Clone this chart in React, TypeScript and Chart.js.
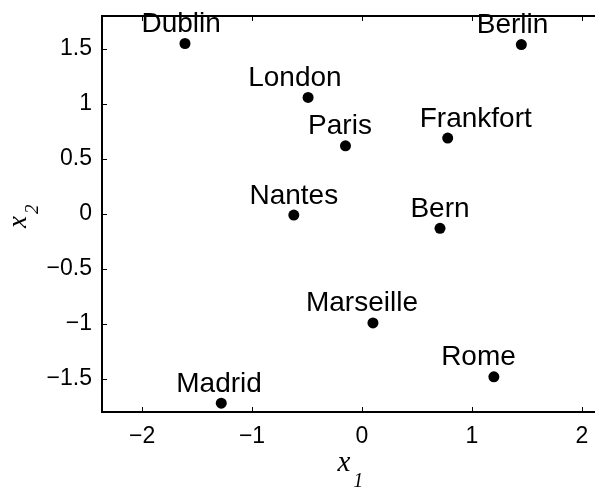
import { useEffect, useRef } from "react";
import { Chart, registerables } from "chart.js";

Chart.register(...registerables);

// City coordinates in the (x1, x2) plane
const cities = ["Dublin", "London", "Paris", "Frankfort", "Berlin", "Bern", "Nantes", "Madrid", "Marseille", "Rome"];
const x1Values = [-1.61, -0.49, -0.15, 0.78, 1.45, 0.71, -0.62, -1.28, 0.1, 1.2];
const x2Values = [1.55, 1.06, 0.62, 0.69, 1.54, -0.13, -0.01, -1.72, -0.99, -1.48];

// Tick values of both axes
const xTicks = [-2, -1, 0, 1, 2];
const yTicks = [-1.5, -1, -0.5, 0, 0.5, 1, 1.5];

// Horizontal shift of each city name (in x1 units) relative to its dot
const labelShift = [-0.035, -0.12, -0.05, 0.255, -0.08, 0, 0, -0.02, -0.1, -0.14];

const SANS = "'Liberation Sans', Arial, Helvetica, sans-serif";
const SERIF = "'Liberation Serif', 'Times New Roman', serif";

const fmt = (v: number) => (v < 0 ? "\u2212" + String(Math.abs(v)) : String(v));

// Axis lines with inward tick marks (left, top, bottom)
const framePlugin = {
  id: "frame",
  beforeDatasetsDraw(chart: any) {
    const { ctx, chartArea: a, scales } = chart;
    const xs = scales.x;
    const ys = scales.y;
    const tick = 5;
    ctx.save();
    ctx.strokeStyle = "#000";
    ctx.lineWidth = 2;
    ctx.beginPath();
    ctx.moveTo(a.right, a.top);
    ctx.lineTo(a.left, a.top);
    ctx.lineTo(a.left, a.bottom);
    ctx.lineTo(a.right, a.bottom);
    ctx.stroke();
    ctx.lineWidth = 1;
    ctx.beginPath();
    xTicks.forEach((v) => {
      const px = Math.round(xs.getPixelForValue(v)) + 0.5;
      ctx.moveTo(px, a.bottom);
      ctx.lineTo(px, a.bottom - tick);
      ctx.moveTo(px, a.top);
      ctx.lineTo(px, a.top + tick);
    });
    yTicks.forEach((v) => {
      const py = Math.round(ys.getPixelForValue(v)) + 0.5;
      ctx.moveTo(a.left, py);
      ctx.lineTo(a.left + tick, py);
    });
    ctx.stroke();
    ctx.restore();
  },
};

// City names above the dots
const cityLabelPlugin = {
  id: "cityLabels",
  afterDatasetsDraw(chart: any) {
    const { ctx, scales } = chart;
    ctx.save();
    ctx.fillStyle = "#000";
    ctx.font = `28px ${SANS}`;
    ctx.textAlign = "center";
    ctx.textBaseline = "alphabetic";
    cities.forEach((name, i) => {
      const px = scales.x.getPixelForValue(x1Values[i] + labelShift[i]);
      const py = scales.y.getPixelForValue(x2Values[i]) - 11.5;
      ctx.fillText(name, px, py);
    });
    ctx.restore();
  },
};

// Axis titles x1 and x2 with subscripts
const axisTitlePlugin = {
  id: "axisTitles",
  afterDraw(chart: any) {
    const { ctx, chartArea: a } = chart;
    ctx.save();
    ctx.fillStyle = "#000";
    ctx.textAlign = "left";
    ctx.textBaseline = "alphabetic";

    // x1 below the horizontal axis
    const cx = (a.left + a.right) / 2;
    ctx.font = `italic 29px ${SERIF}`;
    const wx = ctx.measureText("x").width;
    const startX = cx - 11;
    ctx.fillText("x", startX, a.bottom + 59);
    ctx.font = `italic 20px ${SERIF}`;
    ctx.fillText("1", startX + wx + 3, a.bottom + 75);

    // x2 rotated beside the vertical axis
    const cy = (a.top + a.bottom) / 2;
    ctx.translate(26, cy + 14);
    ctx.rotate(-Math.PI / 2);
    ctx.font = `italic 27px ${SERIF}`;
    const wy = ctx.measureText("x").width;
    ctx.fillText("x", 0, 0);
    ctx.font = `italic 19px ${SERIF}`;
    ctx.fillText("2", wy + 2, 12);
    ctx.restore();
  },
};

export default function App() {
  const canvasRef = useRef<HTMLCanvasElement | null>(null);

  useEffect(() => {
    const canvas = canvasRef.current;
    if (!canvas) return;
    const points = x1Values.map((x, i) => ({ x, y: x2Values[i] }));
    const chart = new Chart(canvas, {
      type: "scatter",
      data: {
        datasets: [
          {
            data: points,
            backgroundColor: "#000",
            borderColor: "#000",
            pointRadius: 5.5,
            pointHoverRadius: 5.5,
            borderWidth: 0,
            clip: false,
          },
        ],
      },
      options: {
        animation: false,
        responsive: false,
        devicePixelRatio: 1,
        layout: { autoPadding: false, padding: { top: 16, right: 0, left: 0, bottom: 0 } },
        plugins: {
          legend: { display: false },
          tooltip: { enabled: false },
        },
        scales: {
          x: {
            type: "linear",
            position: "bottom",
            min: -2.365,
            max: 2.12,
            grid: { display: false, drawTicks: false },
            border: { display: false },
            afterBuildTicks: (s: any) => {
              s.ticks = xTicks.map((v) => ({ value: v }));
            },
            afterFit: (s: any) => {
              s.height = 80;
              s.paddingLeft = 0;
              s.paddingRight = 0;
            },
            ticks: {
              color: "#000",
              padding: 11,
              maxRotation: 0,
              autoSkip: false,
              font: { family: SANS, size: 23 },
              callback: (v: any) => fmt(Number(v)),
            },
          },
          y: {
            type: "linear",
            min: -1.8,
            max: 1.8,
            grid: { display: false, drawTicks: false },
            border: { display: false },
            afterBuildTicks: (s: any) => {
              s.ticks = yTicks.map((v) => ({ value: v }));
            },
            afterFit: (s: any) => {
              s.width = 102;
              s.paddingTop = 0;
              s.paddingBottom = 0;
            },
            ticks: {
              color: "#000",
              padding: 10,
              autoSkip: false,
              font: { family: SANS, size: 23 },
              callback: (v: any) => fmt(Number(v)),
            },
          },
        },
      },
      plugins: [framePlugin, cityLabelPlugin, axisTitlePlugin],
    });
    return () => chart.destroy();
  }, []);

  return (
    <div style={{ position: "absolute", left: 0, top: 0, width: 595, height: 492, background: "#fff" }}>
      <canvas ref={canvasRef} width={595} height={492} style={{ display: "block" }} />
    </div>
  );
}
